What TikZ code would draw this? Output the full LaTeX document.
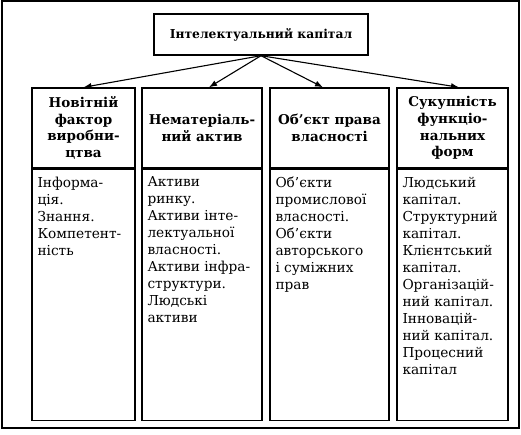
\documentclass[tikz,border=0pt]{standalone}
\usepackage{fontspec}
\setmainfont{DejaVu Serif}
\usetikzlibrary{arrows.meta}
\begin{document}
\begin{tikzpicture}[x=1pt, y=1pt,
    frame/.style={draw, line width=1.2pt},
    titlebox/.style={draw, line width=1.4pt, minimum width=214pt, minimum height=41pt, inner sep=0pt, font=\bfseries\fontsize{12.3}{14}\selectfont},
    head/.style={draw, line width=1.4pt, minimum height=80pt, inner sep=0pt, align=center, font=\bfseries\fontsize{13.5}{16.7}\selectfont},
    body/.style={draw, line width=1.4pt, minimum height=251pt, inner sep=0pt, anchor=north},
    txt/.style={anchor=north west, inner xsep=6pt, inner ysep=8pt, align=left, font=\fontsize{13.7}{17}\selectfont},
    arr/.style={-{Latex[length=8pt,width=6pt]}, line width=1.1pt},
  ]
    \useasboundingbox (0,0) rectangle (521,434);
    % outer frame
    \draw[frame] (2,6) rectangle (519,433);

    % === top ===
    \node[titlebox] (title) at (261,399.5) {Інтелектуальний капітал};

    % === column headers ===
    \node[head, minimum width=103pt] (h1) at (83.5,306) {Новітній\\фактор\\виробни-\\цтва};
    \node[head, minimum width=120pt] (h2) at (202,306) {Нематеріаль-\\ний актив};
    \node[head, minimum width=119pt] (h3) at (329.5,306) {Об’єкт права\\власності};
    \node[head, minimum width=111pt] (h4) at (452.5,306) {Сукупність\\функціо-\\нальних\\форм};

    % === column bodies ===
    \node[body, minimum width=103pt] (b1) at (h1.south) {};
    \node[body, minimum width=120pt] (b2) at (h2.south) {};
    \node[body, minimum width=119pt] (b3) at (h3.south) {};
    \node[body, minimum width=111pt] (b4) at (h4.south) {};

    \node[txt] (t1) at (b1.north west) {Інформа-\\ція.\\Знання.\\Компетент-\\ність};
    \node[txt] (t2) at (b2.north west) {Активи\\ринку.\\Активи інте-\\лектуальної\\власності.\\Активи інфра-\\структури.\\Людські\\активи};
    \node[txt] (t3) at (b3.north west) {Об’єкти\\промислової\\власності.\\Об’єкти\\авторського\\і суміжних\\прав};
    \node[txt] (t4) at (b4.north west) {Людський\\капітал.\\Структурний\\капітал.\\Клієнтський\\капітал.\\Організацій-\\ний капітал.\\Інновацій-\\ний капітал.\\Процесний\\капітал};

    % arrows
    \draw[arr] (title.south) -- (h1.north);
    \draw[arr] (title.south) -- ([xshift=7pt]h2.north);
    \draw[arr] (title.south) -- ([xshift=-6.5pt]h3.north);
    \draw[arr] (title.south) -- ([xshift=6.5pt]h4.north);
  \end{tikzpicture}
\end{document}
